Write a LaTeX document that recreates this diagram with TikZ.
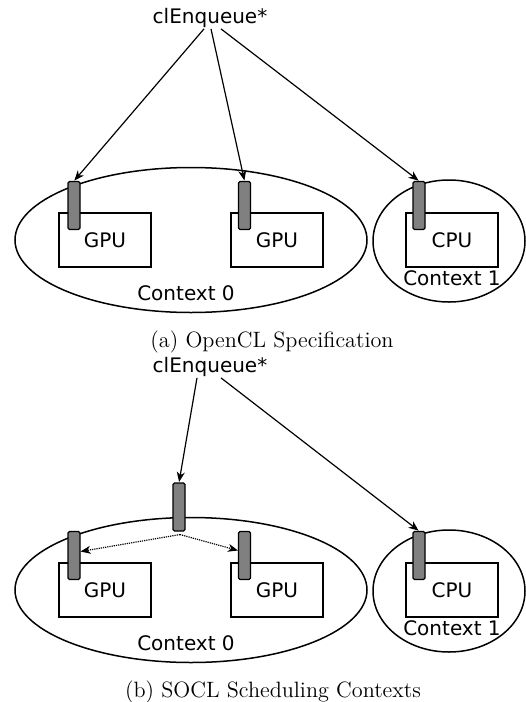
\documentclass[tikz,border=0pt]{standalone}
\usepackage{fontspec}
\setsansfont{DejaVu Sans}
\usepackage{graphicx}
\usepackage{tikz}
\usetikzlibrary{arrows.meta,positioning,shapes.geometric}
\tikzset{
    %Define standard arrow tip
    >={Stealth[length=10pt,width=8pt,inset=3pt]},
    %Define style for devices
    device/.style={
           rectangle,
           draw=black, line width=1.2pt,
           minimum width=92pt,
           minimum height=54pt,
           font=\sffamily\fontsize{20}{24}\selectfont,
           text centered},
    %Define style for command queues
    queue/.style={
           rectangle,
           rounded corners=1.5pt,
           draw=black, line width=1.1pt,
           fill=black!50!white,
           inner sep=0pt,
           minimum width=12pt,
           minimum height=48pt},
    context/.style={
           ellipse,
           draw=black, line width=1.5pt,
           inner sep=0pt},
    lbl/.style={
           font=\sffamily\fontsize{20}{24}\selectfont,
           inner sep=1pt},
    caption/.style={
           font=\fontsize{11.1}{13}\selectfont},
    % Define arrow style
    pil/.style={
           ->,
           line width=1.2pt,
           shorten >=0.5pt},
    sched/.style={
           ->,
           densely dotted,
           line width=1.2pt}
}

\begin{document}
\begin{tikzpicture}[x=1pt,y=-1pt]
\useasboundingbox (0,0) rectangle (526,702);
 %(a) nodes
\node[context, minimum width=352pt, minimum height=145pt](ctxa0) at (191,240){};
\node[context, minimum width=152pt, minimum height=122pt](ctxa1) at (449,241){};
\node[device](gpua1) at (105,240){GPU};
\node[device](gpua2) at (277,240){GPU};
\node[device](cpua) at (452,240){CPU};
\node[queue](qa1) at (74,205.5){};
\node[queue](qa2) at (244.5,205.5){};
\node[queue](qa3) at (419,205.5){};
\node[lbl](labela0) at (186,293){Context 0};
\node[lbl](labela1) at (452,278){Context 1};
\node[lbl](enqa) at (210,18){clEnqueue*};
\node[caption](capa) at (272,342){\scalebox{2}{(a) OpenCL Specification}};
 %(a) edges
\draw[pil] ([xshift=-6pt]enqa.south) -- (qa1.north);
\draw[pil] ([xshift=1pt]enqa.south) -- (qa2.north);
\draw[pil] ([xshift=11pt]enqa.south) -- (qa3.north);

 %(b) nodes
\node[context, minimum width=352pt, minimum height=145pt](ctxb0) at (191,590){};
\node[context, minimum width=152pt, minimum height=122pt](ctxb1) at (449,591){};
\node[device](gpub1) at (105,590){GPU};
\node[device](gpub2) at (277,590){GPU};
\node[device](cpub) at (452,590){CPU};
\node[queue](qb1) at (74,555.5){};
\node[queue](qb2) at (244.5,555.5){};
\node[queue](qb3) at (419,555.5){};
\node[queue](qsched) at (179,507){};
\node[lbl](labelb0) at (186,643){Context 0};
\node[lbl](labelb1) at (452,628){Context 1};
\node[lbl](enqb) at (210,367){clEnqueue*};
\node[caption](capb) at (273,692){\scalebox{2}{(b) SOCL Scheduling Contexts}};
 %(b) edges
\draw[pil] ([xshift=-13pt]enqb.south) -- (qsched.north);
\draw[pil] ([xshift=11pt]enqb.south) -- (qb3.north);
\draw[sched] ([xshift=1pt,yshift=-3pt]qsched.south) -- ([yshift=4pt]qb1.east);
\draw[sched] ([xshift=1pt,yshift=-3pt]qsched.south) -- ([yshift=5pt]qb2.west);
\end{tikzpicture}
\end{document}
